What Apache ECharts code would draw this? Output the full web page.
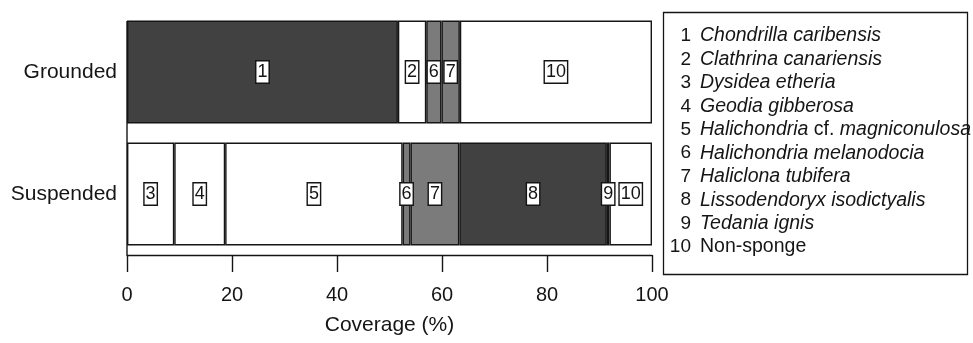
<!DOCTYPE html>
<html>
<head>
<meta charset="utf-8">
<script src="https://cdn.jsdelivr.net/npm/echarts@6/dist/echarts.min.js"></script>
<style>
html,body{margin:0;padding:0;background:#fff;}
#chart{width:973px;height:343px;}
</style>
</head>
<body>
<div id="chart"></div>
<script>
// ---- data ----
var categories = ['Grounded', 'Suspended'];
var speciesIds = ['1','2','3','4','5','6','7','8','9','10'];
var speciesNames = [
  '{i|Chondrilla caribensis}',
  '{i|Clathrina canariensis}',
  '{i|Dysidea etheria}',
  '{i|Geodia gibberosa}',
  '{i|Halichondria} cf. {i|magniconulosa}',
  '{i|Halichondria melanodocia}',
  '{i|Haliclona tubifera}',
  '{i|Lissodendoryx isodictyalis}',
  '{i|Tedania ignis}',
  'Non-sponge'
];
// coverage (%) per species: [Grounded, Suspended]
var s1  = [51.6, null];
var s2  = [5.4,  null];
var s3  = [null, 9.0];
var s4  = [null, 9.7];
var s5  = [null, 33.8];
var s6  = [2.9,  1.5];
var s7  = [3.5,  9.3];
var s8  = [null, 28.1];
var s9  = [null, 0.5];
var s10 = [36.6, 8.1];
var xTicks = [0, 20, 40, 60, 80, 100];

// ---- styles ----
var seriesData = [s1,s2,s3,s4,s5,s6,s7,s8,s9,s10];
var fills = ['#414141','#ffffff','#ffffff','#ffffff','#ffffff','#7b7b7b','#7b7b7b','#414141','#ffffff','#ffffff'];
var FONT = 'Liberation Sans, Arial, sans-serif';
var INK = '#151515';

var series = seriesData.map(function (d, i) {
  return {
    type: 'bar',
    name: speciesIds[i],
    stack: 'cov',
    data: d,
    barWidth: 103,
    silent: true,
    itemStyle: { color: fills[i], borderColor: INK, borderWidth: 1.4 },
    label: {
      show: true,
      position: 'inside',
      formatter: speciesIds[i],
      fontFamily: FONT,
      fontSize: 18,
      color: INK,
      backgroundColor: '#fff',
      borderColor: INK,
      borderWidth: 1.4,
      padding: [2, 1, 1, 1]
    }
  };
});

// legend drawn as graphic text
var legendGraphics = [{
  type: 'rect',
  shape: { x: 663.5, y: 12.5, width: 304, height: 262 },
  style: { fill: '#fff', stroke: INK, lineWidth: 1.3 }
}];
speciesIds.forEach(function (id, i) {
  var y = 36 + i * 23.45;
  legendGraphics.push({
    type: 'text',
    x: 691, y: y,
    style: { text: id, font: '19px ' + FONT, fill: INK, textAlign: 'right', textVerticalAlign: 'middle' }
  });
  legendGraphics.push({
    type: 'text',
    x: 700, y: y,
    style: {
      text: speciesNames[i],
      font: '19.5px ' + FONT, fill: INK, textAlign: 'left', textVerticalAlign: 'middle',
      rich: {
        i: { fontStyle: 'italic', fontFamily: FONT, fontSize: 19.5, fill: INK }
      }
    }
  });
});
// left frame line of the bar region
legendGraphics.push({
  type: 'line',
  shape: { x1: 127, y1: 21, x2: 127, y2: 255 },
  style: { stroke: INK, lineWidth: 1.4 }
});

var chart = echarts.init(document.getElementById('chart'), null, { renderer: 'canvas' });
chart.setOption({
  backgroundColor: '#fff',
  animation: false,
  grid: { left: 127, right: 321, top: 11, bottom: 88, containLabel: false, outerBoundsMode: 'none' },
  xAxis: {
    type: 'value',
    min: 0, max: 100, interval: 20,
    name: 'Coverage (%)',
    nameLocation: 'middle',
    nameGap: 60,
    nameTextStyle: { fontFamily: FONT, fontSize: 21, color: INK },
    axisLine: { show: true, lineStyle: { color: INK, width: 1.4 } },
    axisTick: { show: true, length: 17, inside: false, lineStyle: { color: INK, width: 1.4 } },
    axisLabel: {
      fontFamily: FONT, fontSize: 20, color: INK, margin: 30,
      formatter: function (v) { return xTicks.indexOf(v) >= 0 ? String(v) : ''; }
    },
    splitLine: { show: false }
  },
  yAxis: {
    type: 'category',
    data: categories,
    inverse: true,
    axisLine: { show: false },
    axisTick: { show: false },
    axisLabel: { fontFamily: FONT, fontSize: 21, color: INK, margin: 10 }
  },
  series: series,
  graphic: legendGraphics
});
</script>
</body>
</html>
